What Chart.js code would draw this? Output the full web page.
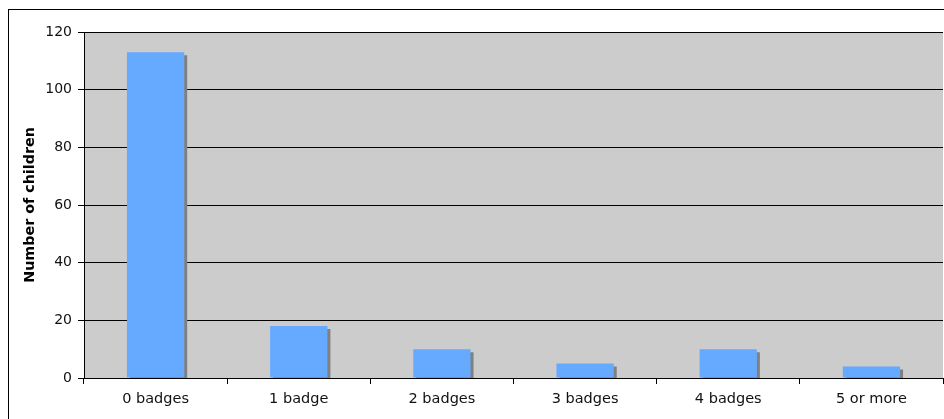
<!DOCTYPE html>
<html>
<head>
<meta charset="utf-8">
<script src="https://cdn.jsdelivr.net/npm/chart.js@4"></script>
<style>
    html, body { margin: 0; padding: 0; background: #fff; overflow: hidden; }
    #wrap { position: relative; width: 944px; height: 419px; }
    #frame { position: absolute; left: 8px; top: 9px; width: 960px; height: 440px; border: 1px solid #000; box-sizing: border-box; }
    #chart { position: absolute; left: 0; top: 0; }
</style>
</head>
<body>
<div id="wrap">
    <div id="frame"></div>
    <canvas id="chart" width="944" height="419"></canvas>
</div>
<script>
const categories = ['0 badges', '1 badge', '2 badges', '3 badges', '4 badges', '5 or more'];
const children = [113, 18, 10, 5, 10, 4];
const yTicks = [0, 20, 40, 60, 80, 100, 120];

const font = { family: '"DejaVu Sans", Verdana, sans-serif', size: 14 };

// Grey plot background
const plotBg = {
    id: 'plotBg',
    beforeDraw: (chart) => {
        const { ctx, chartArea: a } = chart;
        ctx.save();
        ctx.fillStyle = '#cccccc';
        ctx.fillRect(a.left, a.top, a.right - a.left, a.bottom - a.top);
        ctx.restore();
    }
};

// Flat drop shadow behind the bars
const barShadow = {
    id: 'barShadow',
    beforeDatasetsDraw: (chart) => {
        const ctx = chart.ctx;
        ctx.save();
        ctx.shadowColor = '#808080';
        ctx.shadowOffsetX = 3;
        ctx.shadowOffsetY = 3;
        ctx.shadowBlur = 0;
    },
    afterDatasetsDraw: (chart) => {
        chart.ctx.restore();
    }
};

new Chart(document.getElementById('chart'), {
    type: 'bar',
    data: {
        labels: categories,
        datasets: [{
            data: children,
            backgroundColor: '#66aaff',
            borderWidth: 0,
            categoryPercentage: 1,
            barPercentage: 0.4
        }]
    },
    options: {
        responsive: false,
        animation: false,
        layout: { padding: { top: 32, right: 1, bottom: 0, left: 0 } },
        plugins: {
            legend: { display: false },
            tooltip: { enabled: false }
        },
        scales: {
            x: {
                grid: {
                    offset: true,
                    drawOnChartArea: false,
                    tickLength: 6,
                    color: '#000'
                },
                border: { color: '#000', width: 1 },
                ticks: { color: '#111', font: { ...font, size: 14.5 }, padding: 7 },
                afterFit: (s) => { s.height = 41; }
            },
            y: {
                min: 0,
                max: 120,
                afterBuildTicks: (s) => { s.ticks = yTicks.map(v => ({ value: v })); },
                grid: { color: '#000', tickLength: 6 },
                border: { color: '#000', width: 1 },
                ticks: { color: '#111', font, padding: 6 },
                title: {
                    display: true,
                    text: 'Number of children',
                    color: '#000',
                    font: { ...font, size: 14.3, weight: 'bold' },
                    padding: { top: 22, bottom: 0 }
                },
                afterFit: (s) => { s.width = 84; }
            }
        }
    },
    plugins: [plotBg, barShadow]
});
</script>
</body>
</html>
